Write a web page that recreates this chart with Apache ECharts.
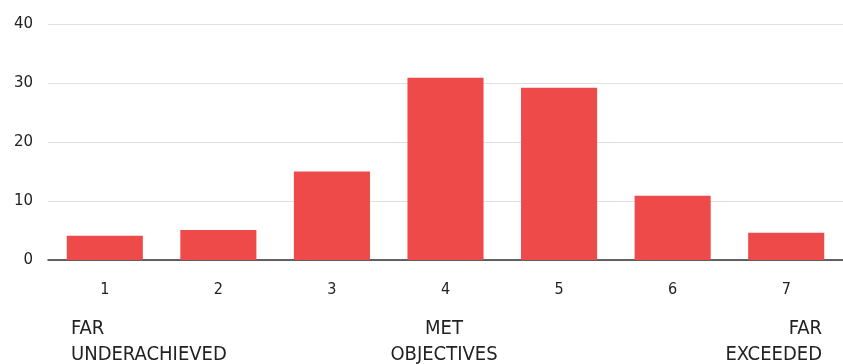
<!DOCTYPE html>
<html>
<head>
<meta charset="utf-8">
<script src="https://cdn.jsdelivr.net/npm/echarts@6/dist/echarts.min.js"></script>
<style>
html,body{margin:0;padding:0;background:#fff;}
#chart{width:843px;height:364px;}
</style>
</head>
<body>
<div id="chart"></div>
<script>
const categories = ['1', '2', '3', '4', '5', '6', '7'];
const values = [4.1, 5.1, 15.0, 30.9, 29.2, 10.9, 4.6];
const yTicks = [0, 10, 20, 30, 40];
const annotationLeft = ['FAR', 'UNDERACHIEVED'];
const annotationMid = ['MET', 'OBJECTIVES'];
const annotationRight = ['FAR', 'EXCEEDED'];

const condensed = '"DejaVu Sans Condensed", sans-serif';
const chart = echarts.init(document.getElementById('chart'), null, {renderer: 'canvas'});

function anno(lines, x, align) {
  return {
    type: 'text',
    x: x,
    y: 316,
    style: {
      text: lines.join('\n'),
      align: align,
      verticalAlign: 'top',
      fontFamily: condensed,
      fontSize: 20,
      lineHeight: 26,
      fill: '#222'
    }
  };
}

chart.setOption({
  animation: false,
  grid: {left: 48, right: -1, top: 24, bottom: 104, containLabel: false},
  xAxis: {
    type: 'category',
    data: categories,
    axisTick: {show: false},
    axisLine: {show: true, lineStyle: {color: '#333', width: 1.5}},
    axisLabel: {
      color: '#222',
      fontSize: 16,
      fontFamily: condensed,
      margin: 22
    }
  },
  yAxis: {
    type: 'value',
    min: yTicks[0],
    max: yTicks[yTicks.length - 1],
    interval: 10,
    axisLine: {show: false},
    axisTick: {show: false},
    splitLine: {lineStyle: {color: '#e0e0e0', width: 1}},
    axisLabel: {
      color: '#222',
      fontSize: 15,
      fontFamily: '"DejaVu Sans", sans-serif',
      margin: 15
    }
  },
  series: [{
    type: 'bar',
    data: values,
    barCategoryGap: '33%',
    itemStyle: {color: '#EF4A4A'}
  }],
  graphic: [
    anno(annotationLeft, 71, 'left'),
    anno(annotationMid, 444, 'center'),
    anno(annotationRight, 822, 'right')
  ]
});
</script>
</body>
</html>
